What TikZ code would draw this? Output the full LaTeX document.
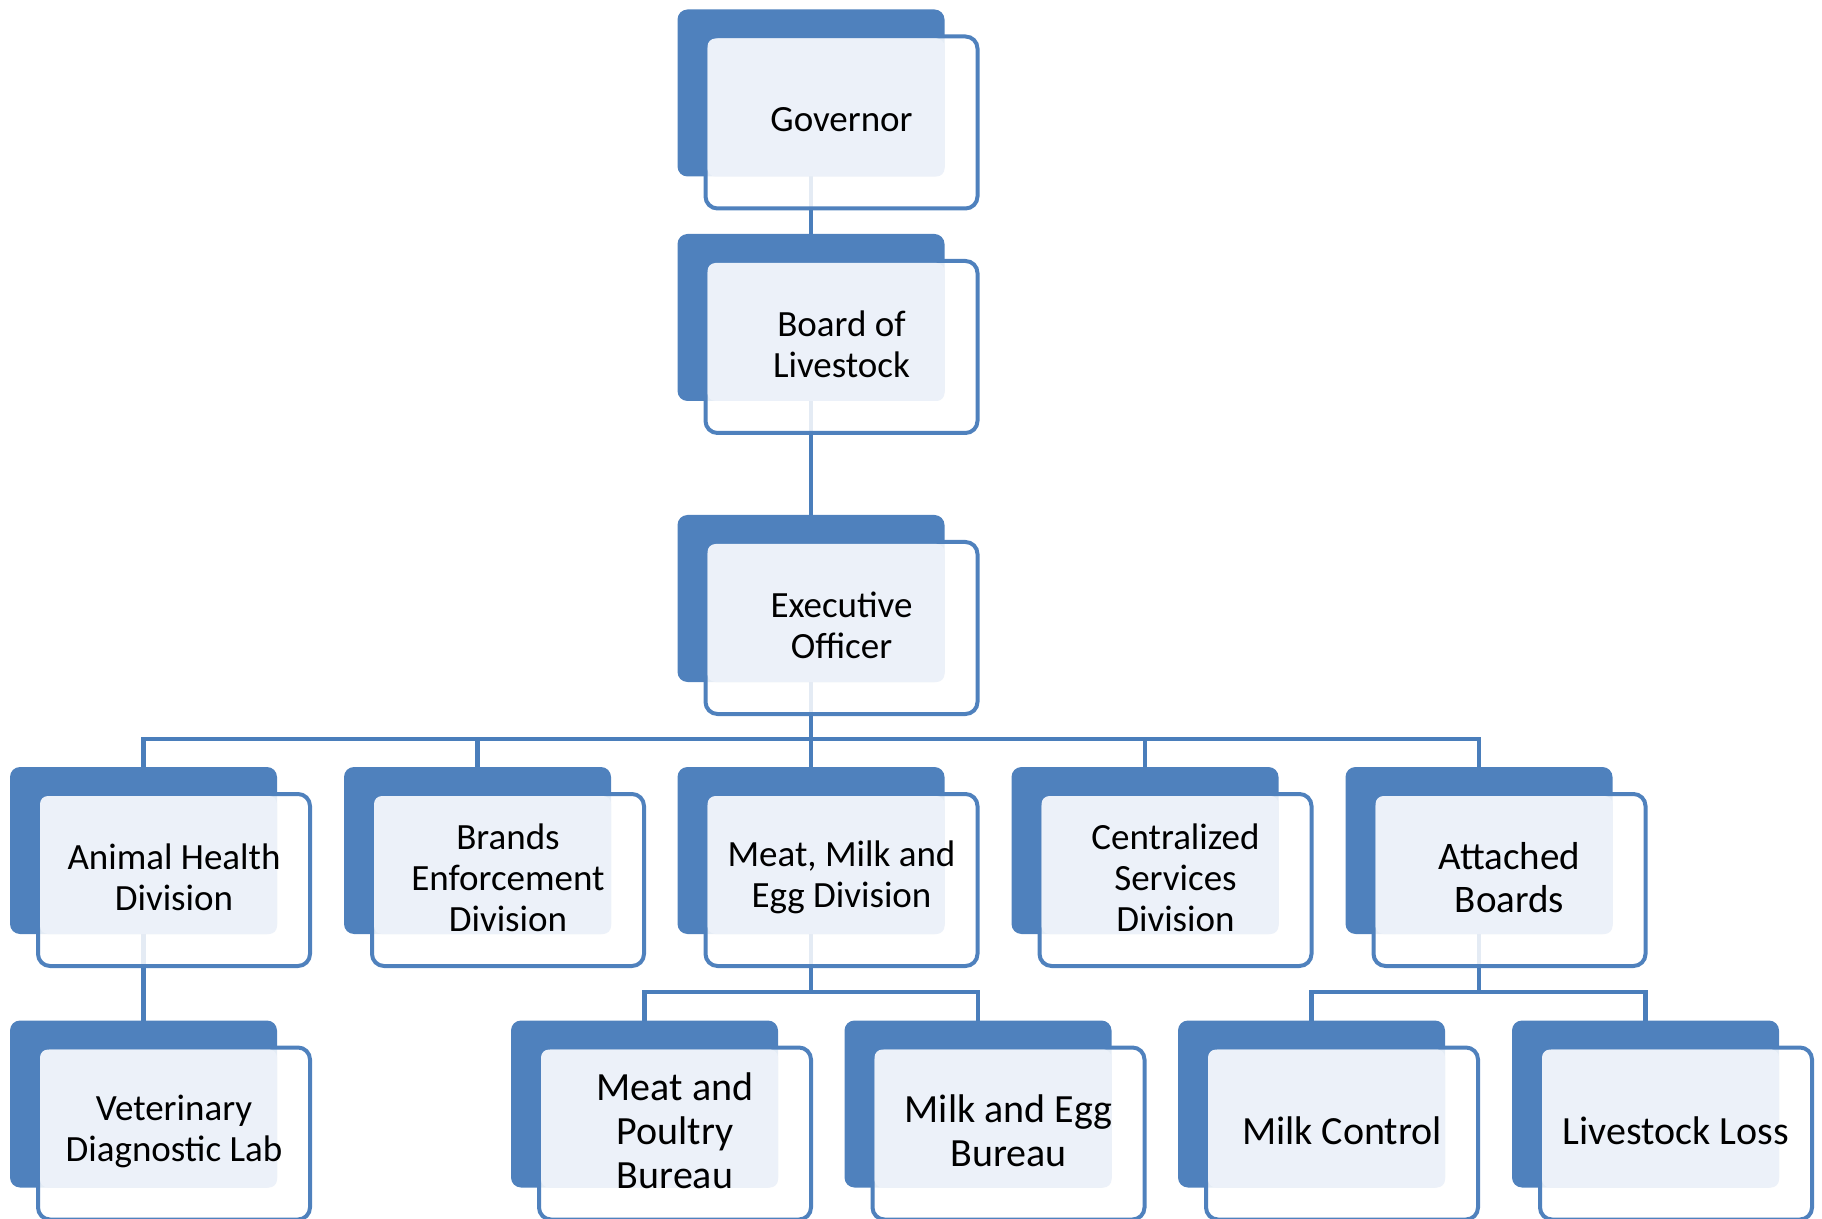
\documentclass[tikz,border=0pt]{standalone}
\usepackage{fontspec}
\setmainfont{Carlito}
\usetikzlibrary{positioning, backgrounds}
\definecolor{orgBlue}{RGB}{79,129,189}
\definecolor{orgLine}{RGB}{74,126,187}
\definecolor{orgGlass}{RGB}{236,241,249}
\tikzset{
  backbox/.style={
    rectangle, rounded corners=5pt, fill=orgBlue,
    minimum width=133.5pt, minimum height=83.5pt,
    inner sep=0pt, outer sep=0pt
  },
  frontbox/.style={
    rectangle, rounded corners=6pt,
    draw=orgBlue, line width=2pt, fill=white, fill opacity=0.85,
    minimum width=136pt, minimum height=86pt,
    inner sep=0pt, outer sep=0pt
  },
  glass/.style={fill=orgGlass, rounded corners=4pt},
  unittext/.style={align=center, inner sep=0pt, yshift=1.2pt, font=\fontsize{18.5}{20.5}\selectfont},
  largetext/.style={font=\fontsize{20}{22}\selectfont},
  midtext/.style={font=\fontsize{19.5}{21.5}\selectfont},
  link/.style={draw=orgLine, line width=2.3pt}
}
% back card, front card, glass and text of one unit
\newcommand{\orgunit}[4]{%
  \node[backbox] (#1) at (#2) {};
  \node[frontbox, below right=13.5pt and 14pt of #1.north west] (#1-f) {};
  \fill[glass] ([shift={(1pt,-1pt)}]#1-f.north west) rectangle (#1.south east);
  \node[unittext,#3] (#1-t) at (#1-f.center) {#4};
}

\begin{document}
\begin{tikzpicture}[x=0.5pt,y=-0.5pt]
\useasboundingbox (0,0) rectangle (1822,1219);
\orgunit{gov}{811,93}{}{Governor}
\orgunit{board}{811,317.5}{}{Board of\\Livestock}
\orgunit{exec}{811,598.5}{}{Executive\\Officer}
\orgunit{animal}{143.5,850.5}{}{Animal Health\\Division}
\orgunit{brands}{477.5,850.5}{}{Brands\\Enforcement\\Division}
\orgunit{mme}{811,850.5}{}{Meat, Milk and\\Egg Division}
\orgunit{central}{1145,850.5}{}{Centralized\\Services\\Division}
\orgunit{attached}{1479,850.5}{midtext}{Attached\\Boards}
\orgunit{vet}{143.5,1104}{}{Veterinary\\Diagnostic Lab}
\orgunit{poultry}{644.5,1104}{largetext}{Meat and\\Poultry\\Bureau}
\orgunit{milkegg}{978,1104}{largetext}{Milk and Egg\\Bureau}
\orgunit{control}{1311.5,1104}{largetext}{Milk Control}
\orgunit{loss}{1645.5,1104}{largetext}{Livestock Loss}
\coordinate (bus-exec) at (811,739);
\coordinate (bus-mme) at (811,992);
\coordinate (bus-att) at (1479,992);
\begin{scope}[on background layer]
\draw[link] (gov.south) -- (board.north);
\draw[link] (board.south) -- (exec.north);
\draw[link] (exec.south) -- (bus-exec);
\draw[link] (bus-exec) -| (animal.north);
\draw[link] (bus-exec) -| (brands.north);
\draw[link] (bus-exec) -- (mme.north);
\draw[link] (bus-exec) -| (central.north);
\draw[link] (bus-exec) -| (attached.north);
\draw[link] (animal.south) -- (vet.north);
\draw[link] (mme.south) -- (bus-mme);
\draw[link] (bus-mme) -| (poultry.north);
\draw[link] (bus-mme) -| (milkegg.north);
\draw[link] (attached.south) -- (bus-att);
\draw[link] (bus-att) -| (control.north);
\draw[link] (bus-att) -| (loss.north);
\end{scope}
\end{tikzpicture}
\end{document}
